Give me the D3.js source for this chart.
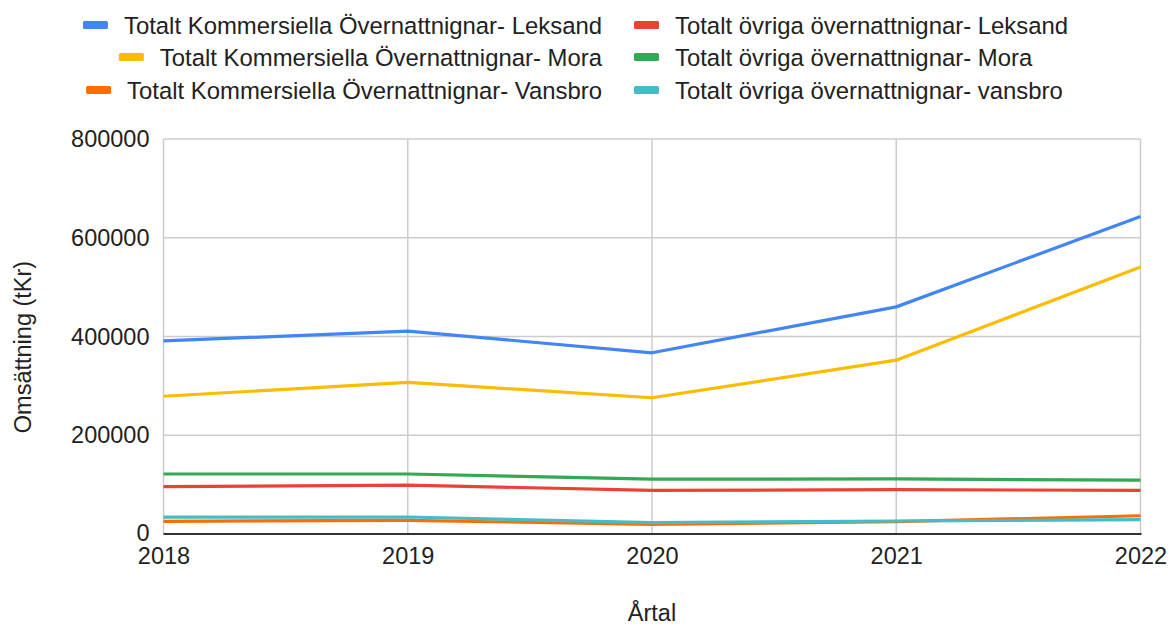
<!DOCTYPE html>
<html>
<head>
<meta charset="utf-8">
<script src="https://cdn.jsdelivr.net/npm/d3@7"></script>
<style>
  html, body { margin: 0; padding: 0; background: #fff; }
  svg { display: block; font-family: "Liberation Sans", Arial, sans-serif; }
</style>
</head>
<body>
<svg id="chart" width="1170" height="627"></svg>
<script>
const years = [2018, 2019, 2020, 2021, 2022];
const seriesNames = [
  "Totalt Kommersiella Övernattnignar- Leksand",
  "Totalt övriga övernattnignar- Leksand",
  "Totalt Kommersiella Övernattnignar- Mora",
  "Totalt övriga övernattnignar- Mora",
  "Totalt Kommersiella Övernattnignar- Vansbro",
  "Totalt övriga övernattnignar- vansbro"
];
const komLeksand = [391000, 411000, 367000, 460000, 643000];
const ovrLeksand = [96000, 99000, 88500, 89700, 88500];
const komMora = [279000, 307000, 276000, 352000, 541000];
const ovrMora = [121500, 121500, 111000, 111500, 109000];
const komVansbro = [25700, 27700, 19600, 25000, 37000];
const ovrVansbro = [34000, 34400, 23000, 26300, 29000];
const seriesColors = ["#4285F4", "#EA4335", "#FBBC04", "#34A853", "#FF6D01", "#46BDC6"];
const yTicks = [0, 200000, 400000, 600000, 800000];
const yTitle = "Omsättning (tKr)";
const xTitle = "Årtal";

const seriesValues = [komLeksand, ovrLeksand, komMora, ovrMora, komVansbro, ovrVansbro];

(function () {
const svg = d3.select("#chart");
const pLeft = 163.5, pRight = 1140.5, pTop = 139, pBottom = 534;
const fontSize = 23.5;
const legendFontSize = 23.9;
const textColor = "#222";

const x = d3.scalePoint().domain(years).range([pLeft, pRight]);
const y = d3.scaleLinear().domain([0, 800000]).range([pBottom, pTop]);

// Horizontal gridlines
svg.append("g").selectAll("line").data(yTicks.filter(d => d !== 0)).join("line")
  .attr("x1", pLeft).attr("x2", pRight)
  .attr("y1", d => y(d)).attr("y2", d => y(d))
  .attr("stroke", "#cccccc").attr("stroke-width", 1.5);

// Vertical gridlines
svg.append("g").selectAll("line").data(years).join("line")
  .attr("x1", d => x(d)).attr("x2", d => x(d))
  .attr("y1", pTop).attr("y2", pBottom)
  .attr("stroke", "#cccccc").attr("stroke-width", 1.5);

// Y axis labels
const yAxis = d3.axisLeft(y).tickValues(yTicks).tickSize(0).tickPadding(14).tickFormat(d3.format("d"));
const gy = svg.append("g").attr("transform", `translate(${pLeft},0)`).call(yAxis);
gy.select(".domain").remove();
gy.selectAll("text").attr("font-size", fontSize).attr("fill", textColor)
  .attr("font-family", "Liberation Sans, Arial, sans-serif");
gy.selectAll(".tick").filter(d => d === 0).select("text").attr("dy", "0.28em");

// X axis labels
const xAxis = d3.axisBottom(x).tickSize(0).tickPadding(13).tickFormat(d3.format("d"));
const gx = svg.append("g").attr("transform", `translate(0,${pBottom})`).call(xAxis);
gx.select(".domain").remove();
gx.selectAll("text").attr("font-size", fontSize).attr("fill", textColor)
  .attr("font-family", "Liberation Sans, Arial, sans-serif");

// Lines
const line = d3.line().x((d, i) => x(years[i])).y(d => y(d));
svg.append("g").selectAll("path").data(seriesValues).join("path")
  .attr("d", d => line(d))
  .attr("fill", "none")
  .attr("stroke", (d, i) => seriesColors[i])
  .attr("stroke-width", 3.2)
  .attr("stroke-linejoin", "round");

// Baseline
svg.append("line")
  .attr("x1", pLeft).attr("x2", pRight + 1)
  .attr("y1", y(0)).attr("y2", y(0))
  .attr("stroke", "#333").attr("stroke-width", 1.8);

// Axis titles
svg.append("text")
  .attr("transform", `translate(31,347) rotate(-90)`)
  .attr("text-anchor", "middle")
  .attr("font-size", fontSize).attr("fill", textColor)
  .text(yTitle);
svg.append("text")
  .attr("x", 652).attr("y", 621)
  .attr("text-anchor", "middle")
  .attr("font-size", fontSize).attr("fill", textColor)
  .text(xTitle);

// Legend: two columns, first column right-aligned, second left-aligned
const legendRowsY = [25, 57, 90];
const col1Right = 602, col2SwatchX = 634;
const swW = 25, swH = 8, gap = 16;
const legend = svg.append("g");
seriesNames.forEach((name, i) => {
  const col = i % 2, row = Math.floor(i / 2);
  const cy = legendRowsY[row];
  const g = legend.append("g");
  const t = g.append("text")
    .attr("y", cy)
    .attr("dy", "0.36em")
    .attr("font-size", legendFontSize).attr("fill", textColor)
    .text(name);
  let textX, swX;
  if (col === 0) {
    const w = t.node().getComputedTextLength();
    textX = col1Right - w;
    swX = textX - gap - swW;
  } else {
    swX = col2SwatchX;
    textX = swX + swW + gap;
  }
  t.attr("x", textX);
  g.append("rect")
    .attr("x", swX).attr("y", cy - swH / 2)
    .attr("width", swW).attr("height", swH)
    .attr("rx", 1.5)
    .attr("fill", seriesColors[i]);
});
})();
</script>
</body>
</html>
